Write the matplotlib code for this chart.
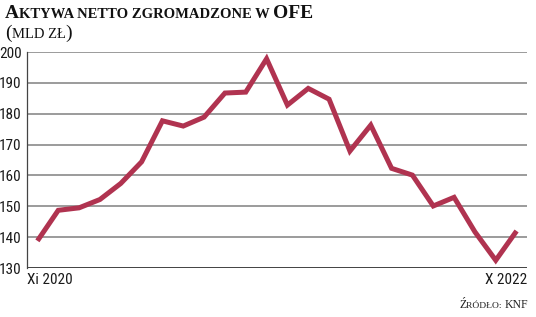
import matplotlib
matplotlib.use("Agg")
import matplotlib.pyplot as plt
from matplotlib import font_manager

# Aktywa netto OFE, mld zl, XI 2020 - X 2022
months = ["Xi 2020", "XII 2020", "I 2021", "II 2021", "III 2021", "IV 2021",
          "V 2021", "VI 2021", "VII 2021", "VIII 2021", "IX 2021", "X 2021",
          "XI 2021", "XII 2021", "I 2022", "II 2022", "III 2022", "IV 2022",
          "V 2022", "VI 2022", "VII 2022", "VIII 2022", "IX 2022", "X 2022"]
values = [138.8, 148.7, 149.5, 152.2, 157.4, 164.4, 177.7, 176.0, 178.9, 186.7,
          187.0, 197.8, 182.8, 188.2, 184.7, 167.9, 176.3, 162.3, 160.1, 150.1,
          152.9, 141.7, 132.5, 142.0]
yticks = [130, 140, 150, 160, 170, 180, 190, 200]

names = {f.name for f in font_manager.fontManager.ttflist}
narrow = [f for f in ["Liberation Sans Narrow", "Roboto Condensed", "DejaVu Sans"] if f in names]
serif = [f for f in ["Liberation Serif", "DejaVu Serif"] if f in names]

W, H = 536, 317
fig = plt.figure(figsize=(W / 100, H / 100), dpi=100)
ax = fig.add_axes([27 / W, 49 / H, 500 / W, 216 / H])

line_col = "#b03350"
ax.plot(range(len(values)), values, color=line_col, lw=3.6, solid_joinstyle="miter",
        solid_capstyle="butt", zorder=3)

ax.set_xlim(-0.5, len(values) - 0.5)
ax.set_ylim(130, 200)
ax.set_yticks(yticks)
for v in yticks[1:]:
    ax.axhline(v, color="#8a8a8a", lw=1.2, zorder=1)
ax.axhline(130, color="#333333", lw=1.3, zorder=2)

for s in ["top", "right", "bottom"]:
    ax.spines[s].set_visible(False)
ax.spines["left"].set_color("#444444")
ax.spines["left"].set_linewidth(0.9)

ax.tick_params(axis="y", length=0, pad=4, labelsize=11, labelcolor="#1a1a1a")
for lab in ax.get_yticklabels():
    lab.set_family(narrow)
ax.set_xticks([])

ax.text(0, -0.025, months[0], transform=ax.transAxes, ha="left", va="top",
        fontsize=11, family=narrow, color="#1a1a1a")
ax.text(1, -0.025, months[-1], transform=ax.transAxes, ha="right", va="top",
        fontsize=11, family=narrow, color="#1a1a1a")

fig.canvas.draw()
renderer = fig.canvas.get_renderer()


def runs(x, y, parts, **kw):
    # place text pieces one after another, in pixels from top-left
    for txt, size in parts:
        t = fig.text(x / W, 1 - y / H, txt, fontsize=size, va="baseline", ha="left", **kw)
        x += t.get_window_extent(renderer).width
    return x


runs(5, 18, [("A", 14), ("KTYWA NETTO ZGROMADZONE W ", 10.5), ("OFE", 14)],
     family=serif, weight="bold", color="#111111")
runs(5, 38, [("(", 14), ("MLD ZŁ", 10.5), (")", 14)],
     family=serif, color="#111111")

# source line, right aligned at x=528
src = [("Ź", 8.5), ("RÓDŁO: ", 6.8), ("KNF", 8.5)]
tmp = [fig.text(0, 0, s, fontsize=f, family=serif) for s, f in src]
total = sum(t.get_window_extent(renderer).width for t in tmp)
for t in tmp:
    t.remove()
runs(528 - total, 308, src, family=serif, color="#222222")

fig.savefig("out.png", dpi=100)
